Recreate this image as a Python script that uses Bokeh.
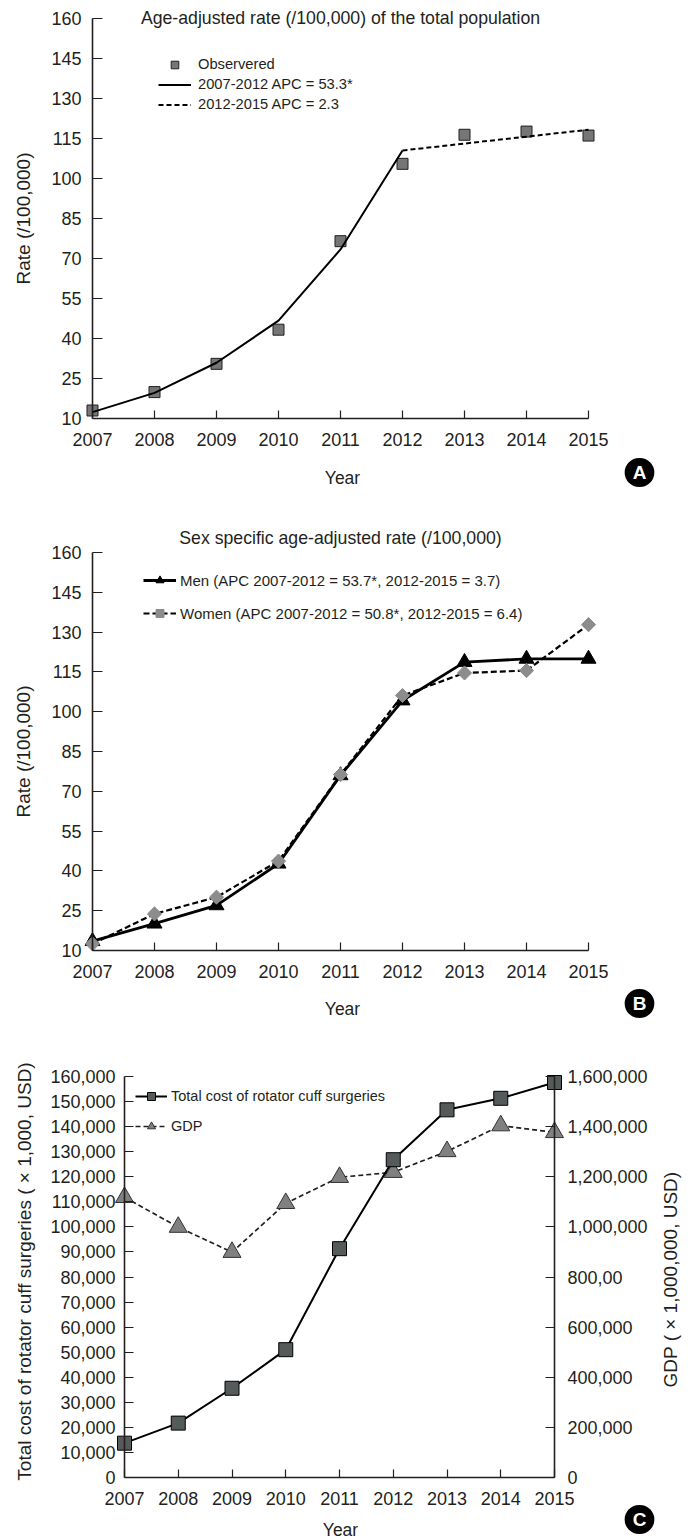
import math
from bokeh.plotting import figure
from bokeh.models import (Range1d, LinearAxis, FixedTicker, Label, Legend,
                          LegendItem, NumeralTickFormatter)
from bokeh.layouts import column
from bokeh.embed import file_html
from bokeh.resources import INLINE

# ---------------- data ----------------
years = [2007, 2008, 2009, 2010, 2011, 2012, 2013, 2014, 2015]
seg1_years = [2007, 2008, 2009, 2010, 2011, 2012]
seg2_years = [2012, 2013, 2014, 2015]

a_observed = [13.0, 19.9, 30.5, 43.3, 76.5, 105.5, 116.4, 117.6, 116.1]
a_fit_2007_2012 = [12.4, 19.6, 30.9, 46.7, 73.4, 110.5]
a_fit_2012_2015 = [110.5, 113.1, 115.7, 118.3]

b_men = [13.5, 20.1, 27.0, 42.7, 76.0, 104.2, 118.7, 119.9, 119.9]
b_women = [12.5, 23.8, 30.1, 43.7, 76.3, 106.1, 114.6, 115.5, 132.8]

c_cost = [13700, 21700, 35600, 51000, 91300, 126800, 146700, 151300, 157600]
c_gdp = [1118000, 999000, 899000, 1094000, 1198000, 1218000, 1301000, 1404000, 1377000]

rate_ticks = [10, 25, 40, 55, 70, 85, 100, 115, 130, 145, 160]
cost_ticks = [0, 10000, 20000, 30000, 40000, 50000, 60000, 70000, 80000,
              90000, 100000, 110000, 120000, 130000, 140000, 150000, 160000]
gdp_ticks = [0, 200000, 400000, 600000, 800000, 1000000, 1200000, 1400000, 1600000]
gdp_tick_labels = ["0", "200,000", "400,000", "600,000", "800,00",
                   "1,000,000", "1,200,000", "1,400,000", "1,600,000"]

title_a = "Age-adjusted rate (/100,000) of the total population"
legend_a = ["Observered", "2007-2012 APC = 53.3*", "2012-2015 APC = 2.3"]
title_b = "Sex specific age-adjusted rate (/100,000)"
legend_b = ["Men (APC 2007-2012 = 53.7*, 2012-2015 = 3.7)",
            "Women (APC 2007-2012 = 50.8*, 2012-2015 = 6.4)"]
legend_c = ["Total cost of rotator cuff surgeries", "GDP"]
ylabel_rate = "Rate (/100,000)"
xlabel = "Year"
ylabel_cost = "Total cost of rotator cuff surgeries ( \u00d7 1,000, USD)"
ylabel_gdp = "GDP ( \u00d7 1,000,000, USD)"
badges = ["A", "B", "C"]

# ---------------- styling ----------------
INK = "#231f20"
SANS = "Liberation Sans"
W = 688          # Bokeh's page template has no body margin
PAGE_X = 0


class Geo:
    """Pixel geometry of one panel (page pixels) -> data ranges."""

    def __init__(self, fig_top, fig_h, x_a, px_a, x_b, px_b, y_a, py_a, y_b, py_b):
        self.fig_top, self.fig_h = fig_top, fig_h
        sx = (px_b - px_a) / (x_b - x_a)
        sy = (py_a - py_b) / (y_b - y_a)
        self.sx, self.sy = sx, sy
        self.x0 = x_a - (px_a - PAGE_X) / sx
        self.x1 = self.x0 + W / sx
        self.y1 = y_b + (py_b - fig_top) / sy
        self.y0 = self.y1 - fig_h / sy

    def fx(self, px):
        return self.x0 + (px - PAGE_X) / self.sx

    def fy(self, py):
        return self.y1 - (py - self.fig_top) / self.sy


def base_fig(g):
    p = figure(width=W, height=g.fig_h, x_range=Range1d(g.x0, g.x1),
               y_range=Range1d(g.y0, g.y1), output_backend="svg",
               toolbar_location=None, title=None,
               min_border_top=0, min_border_bottom=0,
               min_border_left=0, min_border_right=0)
    p.grid.visible = False
    p.outline_line_color = None
    p.background_fill_color = "white"
    p.border_fill_color = "white"
    return p


def style_axis(ax, ticks, tick_len, standoff, size=18):
    ax.ticker = FixedTicker(ticks=ticks)
    ax.major_tick_in = tick_len
    ax.major_tick_out = 0
    ax.minor_tick_in = 0
    ax.minor_tick_out = 0
    ax.axis_line_width = 1.6
    ax.axis_line_color = INK
    ax.major_tick_line_color = INK
    ax.major_tick_line_width = 1.2
    ax.major_label_text_font = SANS
    ax.major_label_text_font_size = f"{size}px"
    ax.major_label_text_color = INK
    ax.major_label_standoff = standoff


def add_text(p, g, px, py, text, size, angle=0.0, bold=False,
             color=INK, align="center", baseline="middle"):
    p.add_layout(Label(x=g.fx(px), y=g.fy(py), text=text, text_font=SANS,
                       text_font_size=f"{size}px", angle=angle,
                       text_align=align, text_baseline=baseline,
                       text_color=color,
                       text_font_style="bold" if bold else "normal"))


def add_badge(p, g, px, py, letter):
    p.add_layout(Label(x=g.fx(px), y=g.fy(py), text=letter, text_font=SANS,
                       text_font_size="19px", text_font_style="bold",
                       text_color="white", text_align="center",
                       text_baseline="middle", background_fill_color="black",
                       border_radius=15, padding=(8, 4)))


def make_legend(items, g, left_px, bottom_py, gw, gh, spacing, standoff, size):
    vx = left_px - PAGE_X
    vy = (g.fig_top + g.fig_h) - bottom_py
    return Legend(items=items, location=(vx, vy), glyph_width=gw, glyph_height=gh,
                  label_height=gh, spacing=spacing, padding=0, margin=0,
                  label_standoff=standoff, border_line_color=None,
                  background_fill_alpha=0, label_text_font=SANS,
                  label_text_font_size=f"{size}px", label_text_color=INK)


# ================= Panel A =================
gA = Geo(0, 500, 2007, 92, 2015, 588, 10, 418, 160, 18)
pA = base_fig(gA)

style_axis(pA.xaxis[0], years, 8, 14)
pA.xaxis[0].fixed_location = 10
pA.xaxis[0].bounds = (2007, 2015)
style_axis(pA.yaxis[0], rate_ticks, 10, 11)
pA.yaxis[0].fixed_location = 2007
pA.yaxis[0].bounds = (10, 160)

sqA = pA.scatter(years, a_observed, marker="square", size=11,
                 fill_color="#767676", line_color=INK, line_width=1)
l1A = pA.line(seg1_years, a_fit_2007_2012, line_color="black", line_width=2)
l2A = pA.line(seg2_years, a_fit_2012_2015, line_color="black", line_width=2,
              line_dash="5 3")

pA.add_layout(make_legend([LegendItem(label=legend_a[0], renderers=[sqA]),
                           LegendItem(label=legend_a[1], renderers=[l1A]),
                           LegendItem(label=legend_a[2], renderers=[l2A])],
                          gA, 158, 113.5, 33, 19, 1, 7, 14.7))

add_text(pA, gA, 340, 17, title_a, 17.7)
add_text(pA, gA, 23, 218, ylabel_rate, 19, angle=math.pi / 2)
add_text(pA, gA, 342, 477, xlabel, 17.5)
add_badge(pA, gA, 639, 472, badges[0])

# ================= Panel B =================
gB = Geo(500, 530, 2007, 92, 2015, 588, 10, 950, 160, 552)
pB = base_fig(gB)

style_axis(pB.xaxis[0], years, 8, 14)
pB.xaxis[0].fixed_location = 10
pB.xaxis[0].bounds = (2007, 2015)
style_axis(pB.yaxis[0], rate_ticks, 10, 11)
pB.yaxis[0].fixed_location = 2007
pB.yaxis[0].bounds = (10, 160)

lmB = pB.line(years, b_men, line_color="black", line_width=2.8)
tmB = pB.scatter(years, b_men, marker="triangle", size=15,
                 fill_color="black", line_color="black")
lwB = pB.line(years, b_women, line_color="black", line_width=2.2,
              line_dash="6 3")
dwB = pB.scatter(years, b_women, marker="square", angle=math.pi / 4, size=10,
                 fill_color="#8c8c8c", line_color="#8c8c8c")

pB.add_layout(make_legend([LegendItem(label=legend_b[0], renderers=[lmB, tmB]),
                           LegendItem(label=legend_b[1], renderers=[lwB, dwB])],
                          gB, 143, 623, 33, 20, 13, 4, 15))

add_text(pB, gB, 340, 537, title_b, 17.7)
add_text(pB, gB, 23, 751, ylabel_rate, 19, angle=math.pi / 2)
add_text(pB, gB, 342, 1008, xlabel, 17.5)
add_badge(pB, gB, 639, 1003, badges[1])

# ================= Panel C =================
gC = Geo(1030, 510, 2007, 124, 2015, 554, 0, 1477, 160000, 1076)
pC = base_fig(gC)
pC.extra_y_ranges = {"gdp": Range1d(gC.y0 * 10, gC.y1 * 10)}

style_axis(pC.xaxis[0], years, 8, 14)
pC.xaxis[0].fixed_location = 0
pC.xaxis[0].bounds = (2007, 2015)
style_axis(pC.yaxis[0], cost_ticks, 9, 9)
pC.yaxis[0].fixed_location = 2007
pC.yaxis[0].bounds = (0, 160000)
pC.yaxis[0].formatter = NumeralTickFormatter(format="0,0")

ax_r = LinearAxis(y_range_name="gdp")
style_axis(ax_r, gdp_ticks, 9, 13)
ax_r.bounds = (0, 1600000)
ax_r.fixed_location = 2015
ax_r.major_label_overrides = {t: s for t, s in zip(gdp_ticks, gdp_tick_labels)}
pC.add_layout(ax_r, "right")

lgC = pC.line(years, c_gdp, y_range_name="gdp", line_color=INK, line_width=1.7,
              line_dash="5 3")
tgC = pC.scatter(years, c_gdp, y_range_name="gdp", marker="triangle", size=18,
                 fill_color="#808080", line_color="#333333", line_width=1)
lcC = pC.line(years, c_cost, line_color="black", line_width=2)
scC = pC.scatter(years, c_cost, marker="square", size=14,
                 fill_color="#555a5a", line_color="black", line_width=1)

pC.add_layout(make_legend([LegendItem(label=legend_c[0], renderers=[lcC, scC]),
                           LegendItem(label=legend_c[1], renderers=[lgC, tgC])],
                          gC, 135, 1136, 32, 20, 10, 4, 14.5))

add_text(pC, gC, 24, 1271, ylabel_cost, 19, angle=math.pi / 2)
add_text(pC, gC, 670, 1279, ylabel_gdp, 19, angle=math.pi / 2)
add_text(pC, gC, 340, 1529, xlabel, 17.5, baseline="alphabetic")
add_badge(pC, gC, 639, 1519, badges[2])

layout = column(pA, pB, pC, spacing=0)
open("out.html", "w").write(file_html(layout, INLINE))
